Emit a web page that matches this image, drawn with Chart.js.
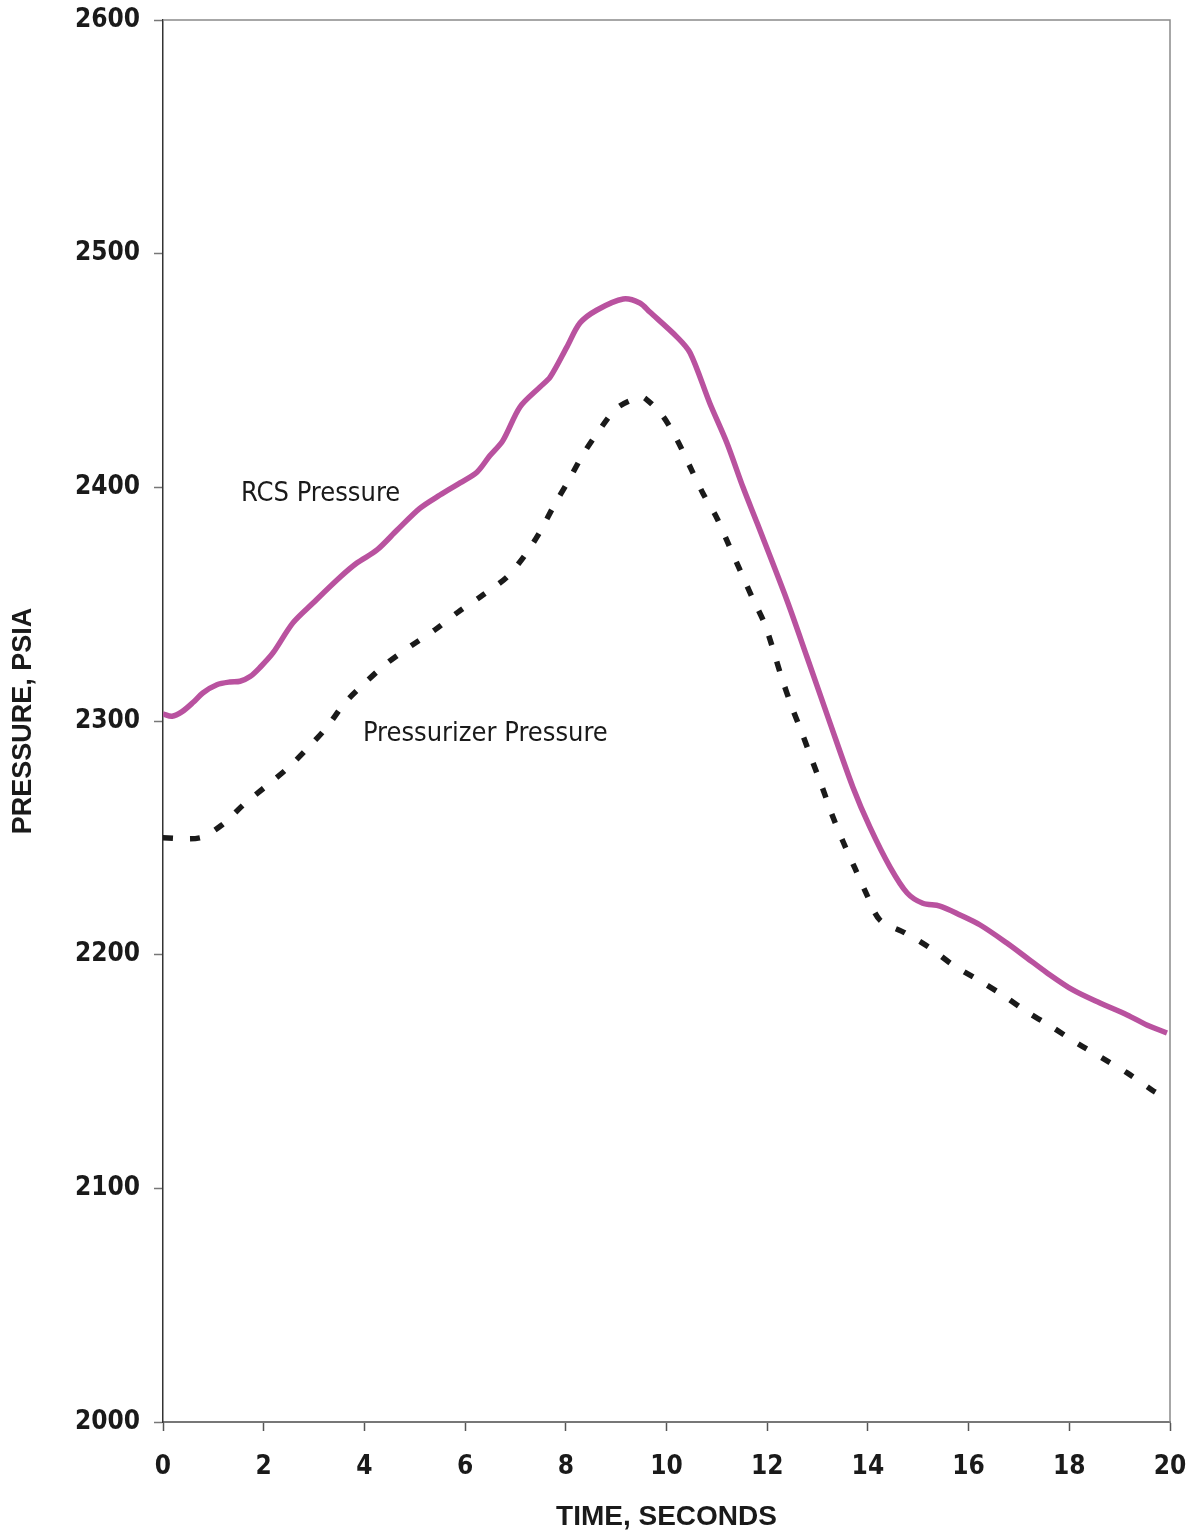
<!DOCTYPE html>
<html lang="en">
<head>
    <meta charset="UTF-8">
    <title>Pressure vs Time</title>
    <script src="https://cdn.jsdelivr.net/npm/chart.js"></script>
    <style>
        body {
            margin: 0;
            background: #fff;
        }
        #wrap {
            width: 1191px;
            height: 1531px;
        }
    </style>
</head>
<body>
    <div id="wrap">
        <canvas id="pressureChart" width="1191" height="1531"></canvas>
    </div>

    <script>
        // RCS pressure (solid magenta)
        const rcsTime = [0, 0.18, 0.38, 0.60, 0.79, 1.07, 1.33, 1.53, 1.73, 1.93, 2.18, 2.58, 2.98, 3.52, 3.85, 4.25, 4.65, 5.10, 5.50, 5.90, 6.24, 6.49, 6.75, 7.09, 7.49, 7.69, 8.02, 8.28, 8.62, 9.14, 9.47, 9.67, 10.21, 10.47, 10.86, 11.20, 11.52, 11.80, 12.39, 12.79, 13.25, 13.70, 14.04, 14.44, 14.78, 15.09, 15.43, 15.83, 16.23, 16.76, 17.16, 17.56, 18.07, 18.61, 19.15, 19.54, 19.94];
        const rcsPressure = [2303, 2302, 2304, 2308, 2312, 2315.5, 2316.7, 2317, 2319, 2323, 2329, 2342, 2350.5, 2361.6, 2367.6, 2373.2, 2381.7, 2391, 2396.7, 2401.9, 2406.6, 2413.5, 2420, 2434.4, 2443, 2447.2, 2460, 2470.3, 2475.9, 2480.6, 2478.9, 2475, 2464.3, 2457.5, 2436, 2419, 2400, 2384.7, 2351.8, 2327.4, 2299, 2271.8, 2254.6, 2237.5, 2226.4, 2222, 2220.8, 2217, 2212.7, 2205, 2198.6, 2192.2, 2184.9, 2179.3, 2174.2, 2169.9, 2166.5];

        // Pressurizer pressure (black dashed)
        const przTime = [0, 0.73, 1.17, 1.59, 2.03, 2.48, 2.88, 3.26, 3.61, 4.03, 4.45, 4.95, 5.40, 5.86, 6.36, 6.83, 7.19, 7.49, 7.75, 8.04, 8.34, 8.64, 9.02, 9.47, 9.57, 9.91, 10.21, 10.47, 10.72, 11.00, 11.22, 11.46, 11.70, 11.96, 12.29, 12.49, 12.69, 12.89, 13.09, 13.29, 13.51, 13.74, 13.98, 14.24, 14.74, 15.23, 15.69, 16.19, 16.68, 17.16, 17.66, 18.15, 18.65, 19.15, 19.64, 19.80];
        const przPressure = [2250, 2250, 2255.5, 2264, 2271.8, 2279.9, 2288.5, 2297.5, 2307.7, 2316.7, 2324.8, 2332.5, 2339, 2346.6, 2354, 2361.6, 2371, 2381, 2391.6, 2402.3, 2414, 2423.7, 2434, 2438.7, 2438.2, 2431, 2420.3, 2408.7, 2397.6, 2386.9, 2376.2, 2364.6, 2353, 2341, 2318.4, 2306, 2294.9, 2283.3, 2271.8, 2259.8, 2248.2, 2237.1, 2225.6, 2214.8, 2209.3, 2202.9, 2195.6, 2189.2, 2182.7, 2175.5, 2169, 2162.2, 2155.8, 2149.4, 2142.1, 2140];

        // curve labels, anchored in data units (time, psia)
        const labelTexts = ['RCS Pressure', 'Pressurizer Pressure'];
        const labelTime = [1.55, 3.97];
        const labelPressure = [2394.2, 2291.4];

        const toPoints = (xs, ys) => xs.map((x, i) => ({x: x, y: ys[i]}));

        const narrow = "'DejaVu Sans Condensed', 'Liberation Sans Narrow', 'Liberation Sans', sans-serif";
        const wide = "'Liberation Sans', Arial, sans-serif";

        const frame = {
            id: 'frame',
            afterDraw(chart) {
                const {ctx, chartArea: a} = chart;
                ctx.save();
                ctx.strokeStyle = '#8a8a8a';
                ctx.lineWidth = 1.5;
                ctx.beginPath();
                ctx.moveTo(a.left, a.top);
                ctx.lineTo(a.right, a.top);
                ctx.lineTo(a.right, a.bottom);
                ctx.stroke();
                ctx.restore();
            }
        };

        const curveLabels = {
            id: 'curveLabels',
            afterDatasetsDraw(chart) {
                const {ctx, scales} = chart;
                ctx.save();
                ctx.fillStyle = '#1a1a1a';
                ctx.font = "500 27px " + narrow;
                ctx.textAlign = 'left';
                ctx.textBaseline = 'alphabetic';
                labelTexts.forEach((t, i) => {
                    ctx.fillText(t, scales.x.getPixelForValue(labelTime[i]), scales.y.getPixelForValue(labelPressure[i]));
                });
                ctx.restore();
            }
        };

        const ctx = document.getElementById('pressureChart').getContext('2d');

        new Chart(ctx, {
            type: 'line',
            data: {
                datasets: [
                    {
                        label: 'RCS Pressure',
                        data: toPoints(rcsTime, rcsPressure),
                        borderColor: '#b9529f',
                        borderWidth: 5.5,
                        pointRadius: 0,
                        tension: 0.3,
                        fill: false
                    },
                    {
                        label: 'Pressurizer Pressure',
                        data: toPoints(przTime, przPressure),
                        borderColor: '#1a1a1a',
                        borderWidth: 5.5,
                        borderDash: [10, 17],
                        borderCapStyle: 'butt',
                        pointRadius: 0,
                        tension: 0.3,
                        fill: false
                    }
                ]
            },
            options: {
                responsive: false,
                animation: false,
                devicePixelRatio: 1,
                layout: {
                    padding: {top: 20, right: 21, left: 0, bottom: 0}
                },
                scales: {
                    x: {
                        type: 'linear',
                        min: 0,
                        max: 20,
                        afterFit(scale) {
                            scale.height = 109;
                            scale.paddingLeft = 0;
                            scale.paddingRight = 0;
                        },
                        ticks: {
                            stepSize: 2,
                            padding: 21,
                            color: '#1a1a1a',
                            font: {family: narrow, size: 26, weight: 'bold'},
                            callback: v => String(v)
                        },
                        grid: {
                            drawOnChartArea: false,
                            drawTicks: true,
                            tickLength: 9,
                            tickWidth: 1.5,
                            color: '#555'
                        },
                        border: {color: '#777', width: 2},
                        title: {
                            display: true,
                            text: 'TIME, SECONDS',
                            color: '#1a1a1a',
                            font: {family: wide, size: 28, weight: 'bold'},
                            padding: {top: 0, bottom: -3}
                        }
                    },
                    y: {
                        min: 2000,
                        max: 2600,
                        afterFit(scale) {
                            scale.width = 163;
                            scale.paddingTop = 0;
                            scale.paddingBottom = 0;
                        },
                        ticks: {
                            stepSize: 100,
                            padding: 14,
                            color: '#1a1a1a',
                            font: {family: narrow, size: 26, weight: 'bold'},
                            callback: v => String(v)
                        },
                        grid: {
                            drawOnChartArea: false,
                            drawTicks: true,
                            tickLength: 9,
                            tickWidth: 1.5,
                            color: '#777'
                        },
                        border: {color: '#333', width: 1.5},
                        title: {
                            display: true,
                            text: 'PRESSURE, PSIA',
                            color: '#1a1a1a',
                            font: {family: wide, size: 27, weight: 'bold'},
                            padding: {top: 7, bottom: 0}
                        }
                    }
                },
                plugins: {
                    legend: {display: false},
                    tooltip: {enabled: false}
                }
            },
            plugins: [frame, curveLabels]
        });
    </script>
</body>
</html>
